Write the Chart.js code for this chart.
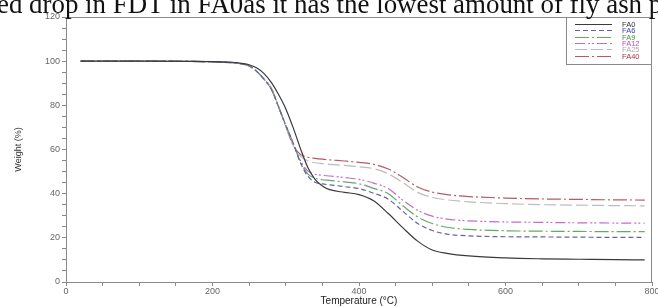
<!DOCTYPE html>
<html>
<head>
<meta charset="utf-8">
<script src="https://cdn.jsdelivr.net/npm/chart.js@4.4.0/dist/chart.umd.min.js"></script>
<style>
  html, body { margin: 0; padding: 0; background: #fff; }
  #wrap { position: relative; width: 658px; height: 307px; overflow: hidden; }
  #caption {
    position: absolute; left: -3px; top: -9px; z-index: 2;
    font-family: "Liberation Serif", "Times New Roman", serif;
    font-size: 26.9px; line-height: 1; white-space: nowrap; color: #111;
  }
  canvas { position: absolute; left: 0; top: 0; }
</style>
</head>
<body>
<div id="wrap">
  <div id="caption">ed drop in FDT in FA0as it has the lowest amount of fly ash p</div>
  <canvas id="tga" width="658" height="307"></canvas>
</div>
<script>
// Temperature points (°C) the curves were read at
const temps = [20, 100, 200, 230, 240, 250, 260, 270, 280, 290, 300, 310, 320, 330, 340, 350, 360, 380, 400, 420, 440, 460, 480, 500, 520, 550, 600, 650, 700, 750, 790];

// Weight (%) per sample
const fa0  = [100, 100, 99.8, 99.4, 99, 98.4, 97, 94.5, 90.5, 85, 78.5, 70, 60.5, 52, 46.5, 43.5, 41.8, 40.6, 39.6, 36.8, 31, 24.5, 18.5, 14.5, 13, 11.8, 10.9, 10.5, 10.3, 10.1, 10];
const fa6  = [100, 100, 99.7, 99.2, 98.8, 97.8, 95.5, 92, 87.5, 79.5, 71, 63, 54, 48, 45.2, 44.4, 44, 43.2, 42.3, 40.2, 37.5, 32, 26.5, 23.3, 21.7, 20.9, 20.5, 20.4, 20.3, 20.2, 20.2];
const fa9  = [100, 100, 99.7, 99.2, 98.8, 97.8, 95.5, 92, 87.5, 79.5, 71, 63, 54.5, 49, 47, 46.3, 46, 45.3, 44.5, 42.4, 40, 34.5, 29.5, 26.5, 24.8, 23.8, 23.2, 23, 22.9, 22.8, 22.8];
const fa12 = [100, 100, 99.7, 99.2, 98.8, 97.8, 95.5, 92, 87.5, 79.5, 71, 63, 55, 50.3, 48.8, 48.3, 48, 47.3, 46.5, 44.8, 42.3, 37, 32.5, 29.8, 28.5, 27.7, 27.2, 27, 26.8, 26.7, 26.6];
const fa25 = [100, 100, 99.7, 99.2, 98.8, 97.8, 95.5, 92, 88, 79.5, 70.5, 62, 57, 54.8, 54, 53.6, 53.3, 52.8, 52.2, 51.3, 49, 45, 40.6, 38.3, 37.2, 36.3, 35.5, 35, 34.8, 34.6, 34.5];
const fa40 = [100, 100, 99.7, 99.2, 98.8, 97.8, 95.5, 92, 88, 79.5, 70.5, 62, 57.8, 56.5, 56, 55.6, 55.3, 54.8, 54.2, 53.3, 51.2, 47.3, 43, 40.7, 39.6, 38.7, 38, 37.6, 37.4, 37.2, 37.1];

const labels = ['FA0', 'FA6', 'FA9', 'FA12', 'FA25', 'FA40'];
const lineColors = ['#3a3a3a', '#6464a8', '#66a866', '#c46cc8', '#bcbcbc', '#b45a68'];
const labelColors = ['#333333', '#3c3cb4', '#3c9a3c', '#cc44cc', '#aaaaaa', '#b03040'];
const dashes = [[], [5, 3], [14, 3, 2, 3], [10, 3, 2, 2, 2, 3], [12, 4], [14, 3, 2, 3]];

const series = [fa0, fa6, fa9, fa12, fa25, fa40];

// Plot frame + legend box drawn inside the plot's top-right corner
const frameAndLegend = {
    id: 'frameAndLegend',
    afterDatasetsDraw(chart) {
        const { ctx, chartArea: a } = chart;
        ctx.save();
        ctx.strokeStyle = '#8a8a8a';
        ctx.lineWidth = 1;
        ctx.setLineDash([]);
        ctx.strokeRect(a.left + 0.5, a.top + 0.5, a.right - a.left - 1, a.bottom - a.top);

        const bw = 86, bh = 47;
        const bx = a.right - bw, by = a.top;
        ctx.fillStyle = '#fff';
        ctx.fillRect(bx, by, bw, bh);
        ctx.strokeRect(bx + 0.5, by + 0.5, bw - 1, bh);

        chart.data.datasets.forEach((ds, i) => {
            const y = Math.round(by + 7 + i * 6.3) + 0.5;
            ctx.beginPath();
            ctx.setLineDash(ds.borderDash);
            ctx.strokeStyle = ds.borderColor;
            ctx.moveTo(bx + 9, y);
            ctx.lineTo(bx + 46, y);
            ctx.stroke();
            ctx.setLineDash([]);
            ctx.fillStyle = labelColors[i];
            ctx.font = '7.5px Arial, "Liberation Sans", sans-serif';
            ctx.textBaseline = 'middle';
            ctx.fillText(ds.label, bx + 56, y);
        });
        ctx.restore();
    }
};

const noPad = scale => {
    scale.paddingLeft = 0;
    scale.paddingRight = 0;
    scale.paddingTop = 0;
    scale.paddingBottom = 0;
};

const tickFont = { family: 'Arial, "Liberation Sans", sans-serif', size: 9 };

new Chart(document.getElementById('tga'), {
    type: 'line',
    data: {
        datasets: series.map((vals, i) => ({
            label: labels[i],
            data: temps.map((t, j) => ({ x: t, y: vals[j] })),
            borderColor: lineColors[i],
            borderDash: dashes[i],
            borderWidth: 1.2,
            pointRadius: 0,
            fill: false,
            cubicInterpolationMode: 'monotone'
        }))
    },
    options: {
        responsive: false,
        animation: false,
        devicePixelRatio: 1,
        layout: { padding: { top: 17, right: 6, bottom: 0, left: 13 } },
        plugins: { legend: { display: false }, tooltip: { enabled: false } },
        scales: {
            x: {
                type: 'linear',
                min: 0,
                max: 800,
                afterFit(scale) { scale.height = 25; noPad(scale); },
                ticks: {
                    stepSize: 50,
                    autoSkip: false,
                    maxRotation: 0,
                    padding: 0,
                    color: '#666',
                    font: tickFont,
                    callback: v => (v % 200 === 0 ? v : '')
                },
                grid: { drawOnChartArea: false, tickLength: 4, tickColor: '#8a8a8a' },
                border: { color: '#8a8a8a' },
                title: {
                    display: true,
                    text: 'Temperature (°C)',
                    color: '#222',
                    padding: 0,
                    font: { family: 'Arial, "Liberation Sans", sans-serif', size: 10 }
                }
            },
            y: {
                min: 0,
                max: 120,
                afterFit(scale) { scale.width = 53; noPad(scale); },
                ticks: {
                    stepSize: 5,
                    autoSkip: false,
                    padding: 2,
                    color: '#666',
                    font: tickFont,
                    callback: v => (v % 20 === 0 ? v : '')
                },
                grid: { drawOnChartArea: false, tickLength: 4, tickColor: '#8a8a8a' },
                border: { color: '#8a8a8a' },
                title: {
                    display: true,
                    text: 'Weight (%)',
                    color: '#333',
                    padding: 0,
                    font: { family: 'Arial, "Liberation Sans", sans-serif', size: 9 }
                }
            }
        }
    },
    plugins: [frameAndLegend]
});
</script>
</body>
</html>
